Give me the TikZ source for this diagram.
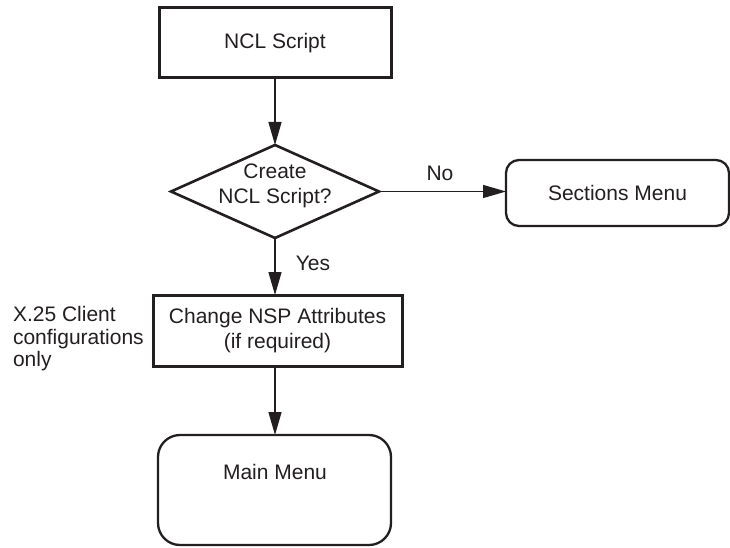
\documentclass[tikz,border=0pt]{standalone}
\usepackage{fontspec}
\setmainfont{Liberation Sans}
\usetikzlibrary{shapes.geometric,arrows.meta}
\definecolor{ink}{RGB}{35,31,32}
\begin{document}
\begin{tikzpicture}[x=1pt,y=-1pt,
  every node/.style={font=\fontsize{21}{25}\selectfont, inner sep=0pt, outer sep=0pt, text=ink},
  sqbox/.style={draw=ink, line width=3pt, align=center},
  rbox/.style={draw=ink, line width=2.3pt, align=center},
  dia/.style={draw=ink, shape=diamond, line width=2.6pt, minimum width=208pt, minimum height=93pt},
  arr/.style={draw=ink, line width=1.3pt, -{Triangle[length=23pt,width=13pt]}}
]
\useasboundingbox (0,0) rectangle (730,548);

\node[sqbox, minimum width=232pt, minimum height=70pt] (ncl) at (275,43) {NCL Script};
\node[dia] (dec) at (275,191.5) {};
\node[align=center] (dectext) at (275,186) {Create\\NCL Script?};
\node[rbox, rounded corners=13pt, minimum width=223pt, minimum height=66pt] (sec) at (617.5,193) {Sections Menu};
\node[sqbox, minimum width=249pt, minimum height=71pt] (nsp) at (277.5,330.5) {Change NSP Attributes\\(if required)};
\node[rbox, rounded corners=22pt, minimum width=233pt, minimum height=110pt] (main) at (274.5,490) {};
\node (maintext) at (275,472) {Main Menu};
\node[align=left, anchor=west, font=\fontsize{21}{22.5}\selectfont] (note) at (13,339) {X.25 Client\\configurations\\only};
\node (no) at (440,173) {No};
\node (yes) at (313,263) {Yes};

\draw[arr] (ncl.south) -- (dec.north);
\draw[arr] (dec.east) -- (dec.east -| sec.west);
\draw[arr] (dec.south) -- (dec.south |- nsp.north);
\draw[arr] (nsp.south -| dec.south) -- (main.north -| dec.south);
\end{tikzpicture}
\end{document}
